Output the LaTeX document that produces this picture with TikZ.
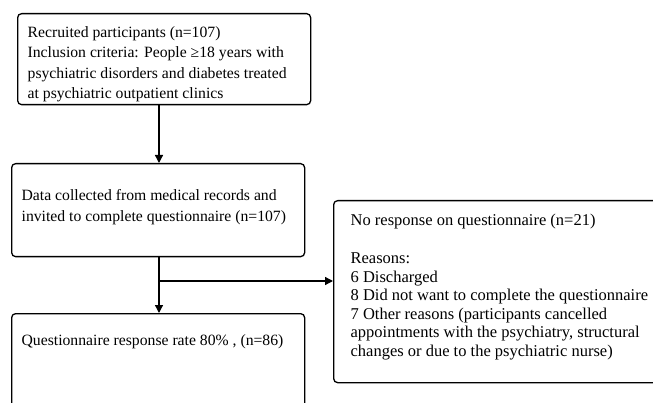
\documentclass[tikz,border=0pt]{standalone}
\usepackage{fontspec}
\setmainfont{Liberation Serif}
\usetikzlibrary{arrows.meta}
\begin{document}
\begin{tikzpicture}[x=1pt, y=-1pt,
  box/.style={draw, rounded corners=4pt, line width=1.3pt, inner xsep=10pt, inner ysep=0pt, anchor=north west, font=\fontsize{15.7}{20.3}\selectfont},
  flow/.style={-{Triangle[length=8pt, width=8pt]}, line width=1.3pt}]
\useasboundingbox (0,0) rectangle (653,403);
\clip (0,0) rectangle (653,403);
% boxes
\node[box] (recruit) at (17,13) {\parbox[t][91pt][t]{273pt}{\vspace*{13pt}Recruited participants (n=107)\\
  Inclusion criteria: People ≥18 years with\\
  psychiatric disorders and diabetes treated\\
  at psychiatric outpatient clinics}};
\node[box] (collect) at (11,163) {\parbox[t][93pt][t]{273pt}{\vspace*{26pt}Data collected from medical records and\\
  invited to complete questionnaire (n=107)}};
\node[box] (answer) at (11,313) {\parbox[t][110pt][t]{273pt}{\vspace*{21pt}Questionnaire response rate 80\% , (n=86)}};
\node[box, inner xsep=17pt, font=\fontsize{16.5}{18.5}\selectfont] (noanswer) at (333,200) {\parbox[t][182pt][t]{320pt}{\vspace*{13pt}No response on questionnaire (n=21)\\[20pt]
  Reasons:\\
  6 Discharged\\
  8 Did not want to complete the questionnaire\\
  7 Other reasons (participants cancelled\\
  appointments with the psychiatry, structural\\
  changes or due to the psychiatric nurse)}};
% connectors
\coordinate (split) at (159,281);
\draw[flow] (recruit.south -| split) -- (collect.north -| split);
\draw[line width=1.3pt] (collect.south -| split) -- (split);
\draw[flow] (split) -- (answer.north -| split);
\draw[flow] (split) -- (split -| noanswer.west);
\end{tikzpicture}
\end{document}
